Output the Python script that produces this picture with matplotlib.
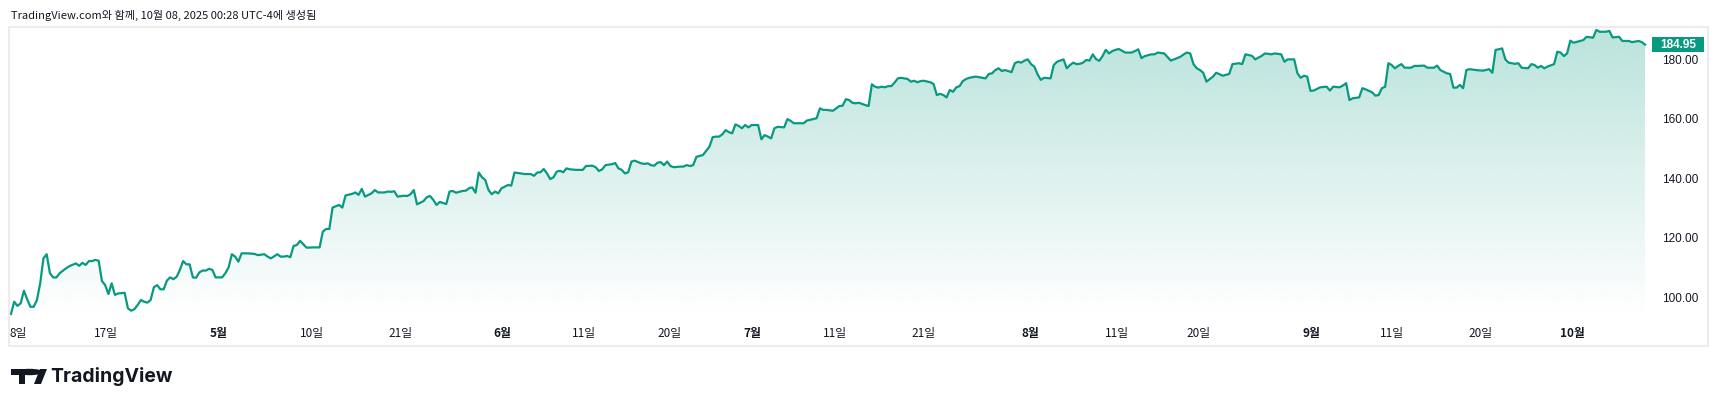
import matplotlib
matplotlib.use("Agg")
import matplotlib.pyplot as plt
import numpy as np
from matplotlib.patches import Rectangle, Polygon, Circle, PathPatch
from matplotlib.path import Path

# ---------------- data (2-hour bar index, price) ----------------
bar_idx = [
    0, 1, 2, 3, 4, 5, 6, 7, 8, 9, 10, 11, 12, 13, 14, 15, 17, 18, 20, 21, 22, 23, 24, 25, 26, 27,
    28, 29, 30, 31, 32, 33, 35, 36, 37, 38, 39, 40, 41, 42, 43, 44, 45, 46, 47, 48, 49, 50, 51, 52,
    53, 54, 55, 56, 57, 58, 59, 60, 61, 62, 63, 65, 66, 67, 68, 69, 70, 71, 73, 75, 76, 78, 79, 80,
    82, 83, 84, 85, 86, 87, 88, 89, 91, 93, 95, 96, 97, 98, 99, 101, 102, 103, 105, 106, 107, 108,
    109, 111, 112, 113, 115, 116, 117, 118, 119, 121, 122, 123, 124, 125, 127, 128, 129, 130, 131,
    132, 134, 135, 136, 137, 139, 140, 141, 142, 143, 144, 145, 146, 147, 148, 149, 150, 151, 153,
    154, 155, 157, 158, 160, 161, 162, 163, 164, 165, 166, 167, 168, 169, 170, 171, 172, 174, 176,
    177, 179, 180, 181, 182, 183, 185, 186, 187, 188, 189, 190, 191, 192, 194, 195, 196, 197, 198,
    199, 200, 201, 202, 203, 204, 206, 207, 208, 209, 210, 211, 212, 213, 215, 216, 217, 218, 219,
    220, 221, 222, 223, 224, 225, 226, 227, 228, 230, 231, 232, 233, 234, 235, 236, 238, 239, 240,
    241, 243, 244, 245, 247, 248, 249, 250, 251, 253, 254, 255, 256, 257, 258, 259, 260, 261, 263,
    264, 265, 266, 267, 268, 269, 270, 271, 272, 273, 274, 276, 277, 278, 279, 280, 281, 283, 284,
    285, 286, 287, 288, 289, 290, 291, 292, 293, 294, 295, 297, 298, 300, 301, 302, 303, 304, 305,
    306, 308, 309, 310, 311, 312, 313, 314, 315, 316, 317, 318, 320, 321, 322, 323, 324, 325, 326,
    327, 328, 329, 330, 331, 332, 333, 334, 335, 336, 337, 338, 339, 340, 341, 343, 345, 346, 347,
    348, 349, 351, 352, 353, 355, 357, 358, 360, 361, 362, 363, 364, 365, 366, 367, 368, 370, 371,
    373, 375, 376, 378, 379, 380, 382, 383, 385, 386, 388, 389, 391, 392, 393, 395, 396, 397, 398,
    399, 400, 401, 403, 405, 406, 407, 409, 410, 411, 412, 413, 415, 416, 417, 419, 420, 421, 422,
    423, 424, 425, 426, 427, 428, 429, 431, 432, 433, 435, 436, 438, 439, 440, 442, 443, 444, 445,
    446, 447, 448, 449, 451, 453, 454, 455, 456, 457, 458, 459, 460, 461, 463, 464, 465, 467, 468,
    469, 470, 471, 472, 473, 475, 476, 477, 478, 479, 480, 481, 483, 484, 485, 487, 488, 489, 491,
    492, 493, 495, 496, 498, 499, 501, 502, 503,
]
price = [
    94.3, 98.4, 97.0, 97.9, 102.1, 99.2, 96.7, 96.7, 99.0, 104.6, 113.0, 114.4, 108.0, 106.6, 106.6,
    108.0, 109.7, 110.4, 111.3, 110.5, 111.5, 110.8, 112.1, 112.1, 112.5, 112.2, 105.4, 104.0, 101.0,
    104.6, 100.7, 101.2, 101.4, 96.2, 95.4, 95.9, 97.3, 99.0, 98.4, 98.1, 99.0, 103.3, 104.0, 102.6,
    102.6, 105.5, 106.6, 106.0, 106.8, 109.1, 112.1, 111.0, 111.0, 106.6, 106.5, 108.3, 108.9, 108.9,
    109.5, 109.1, 106.6, 106.6, 108.0, 110.0, 114.4, 113.6, 111.9, 114.7, 114.7, 114.5, 114.1, 114.4,
    113.6, 113.0, 114.4, 113.6, 113.6, 113.8, 113.4, 117.2, 117.5, 118.9, 116.6, 116.7, 116.7, 122.0,
    122.9, 122.9, 130.1, 131.0, 130.1, 134.2, 134.7, 135.2, 134.4, 136.4, 133.8, 134.9, 136.0, 135.2,
    135.2, 135.5, 135.4, 135.6, 133.8, 134.1, 134.0, 134.6, 136.0, 131.2, 132.3, 133.6, 134.0, 132.7,
    131.0, 132.0, 131.3, 135.5, 135.7, 135.1, 135.7, 135.8, 136.6, 136.9, 135.1, 141.9, 140.3, 139.4,
    136.0, 134.6, 135.5, 134.9, 136.6, 137.7, 137.5, 141.9, 141.6, 141.4, 141.4, 140.8, 141.9, 142.0,
    143.1, 141.6, 139.7, 140.3, 142.2, 142.5, 142.0, 143.3, 143.0, 142.8, 142.8, 144.1, 144.2, 143.7,
    142.4, 143.0, 144.4, 144.7, 145.1, 143.3, 142.8, 141.6, 142.0, 145.6, 145.9, 145.0, 144.8, 145.0,
    144.4, 144.2, 145.2, 145.4, 144.4, 145.6, 144.1, 143.7, 143.9, 143.9, 144.4, 144.1, 144.4, 147.2,
    147.5, 147.8, 150.6, 153.8, 154.0, 154.0, 154.8, 156.2, 155.5, 155.1, 158.1, 157.6, 156.8, 157.9,
    157.1, 157.9, 157.9, 153.1, 154.5, 154.0, 153.4, 156.8, 157.3, 157.1, 159.9, 159.3, 158.5, 158.5,
    158.5, 159.4, 159.9, 160.2, 163.5, 163.0, 163.0, 162.7, 163.5, 164.3, 164.4, 166.6, 166.3, 165.4,
    165.2, 165.4, 164.6, 164.3, 171.6, 170.8, 170.5, 170.8, 170.6, 171.0, 171.0, 172.2, 173.6, 173.8,
    173.4, 172.5, 172.8, 172.3, 172.7, 172.8, 172.3, 171.7, 168.0, 168.4, 168.0, 167.2, 169.7, 169.1,
    170.6, 171.0, 172.7, 173.4, 173.8, 174.2, 174.0, 173.6, 175.1, 175.3, 176.4, 177.0, 176.1, 176.4,
    175.7, 178.7, 179.2, 178.9, 179.6, 180.0, 178.4, 177.6, 175.0, 173.1, 173.8, 173.6, 178.1, 179.2,
    179.6, 180.0, 177.0, 178.1, 178.9, 178.4, 178.5, 178.9, 179.8, 179.6, 181.7, 180.1, 179.5, 181.1,
    183.2, 182.0, 182.8, 183.2, 183.5, 182.3, 182.3, 182.8, 183.4, 180.4, 181.1, 181.7, 181.7, 182.3,
    182.0, 179.6, 180.0, 180.9, 181.7, 182.3, 182.0, 178.4, 177.0, 176.4, 175.5, 172.5, 174.2, 175.5,
    174.5, 175.1, 178.4, 178.7, 178.4, 181.7, 181.2, 180.0, 181.2, 182.0, 181.7, 182.0, 181.7, 179.2,
    180.0, 180.0, 175.3, 173.8, 174.5, 174.2, 169.4, 169.5, 170.6, 170.8, 169.5, 170.8, 170.6, 171.2,
    172.0, 166.3, 166.9, 167.2, 170.3, 169.9, 168.9, 167.8, 168.0, 170.3, 170.8, 178.7, 178.1, 177.0,
    177.8, 178.4, 177.2, 177.2, 177.8, 177.8, 177.9, 177.2, 177.2, 177.9, 176.4, 175.3, 175.1, 170.5,
    170.5, 171.4, 170.3, 176.4, 176.7, 176.4, 176.2, 176.4, 176.7, 175.5, 183.2, 183.4, 183.7, 180.0,
    178.9, 178.5, 178.7, 177.2, 177.0, 178.4, 178.1, 177.2, 177.8, 177.0, 177.6, 178.4, 182.6, 182.3,
    181.1, 182.0, 186.3, 185.6, 186.2, 186.5, 187.6, 187.3, 189.9, 189.3, 189.3, 189.6, 187.4, 187.6,
    186.2, 186.2, 185.8, 186.2, 185.8, 184.95,
]

tick_pos = [2.3, 29.2, 64.0, 92.6, 120.0, 151.1, 176.3, 202.8, 228.3, 253.8, 280.9,
            313.8, 340.6, 365.5, 400.3, 425.2, 452.3, 480.6]
tick_labels = ["8일", "17일", "5월", "10일", "21일", "6월", "11일", "20일", "7월", "11일", "21일",
               "8월", "11일", "20일", "9월", "11일", "20일", "10월"]
month_labels = {"5월", "6월", "7월", "8월", "9월", "10월"}
y_ticks = [100, 120, 140, 160, 180]

TEAL = "#089981"
TXT = "#131722"
KR = ["Noto Sans CJK KR", "DejaVu Sans"]

W, H = 1720, 407
fig = plt.figure(figsize=(W / 100, H / 100), dpi=100)
fig.patch.set_facecolor("white")


def fx(px):
    return px / W


def fy(py):
    return 1 - py / H


# pane (plot area)
L, R, T, B = 9, 1647, 27, 318
ax = fig.add_axes([fx(L), fy(B), fx(R) - fx(L), fy(T) - fy(B)])
ax.set_facecolor("white")
xmin, xmax = -0.6, 503.6
ylo, yhi = 92.93, 190.9
ax.set_xlim(xmin, xmax)
ax.set_ylim(ylo, yhi)

x = np.array(bar_idx, dtype=float)
y = np.array(price, dtype=float)

# gradient area fill clipped to the area under the line
n = 256
grad = np.zeros((n, 1, 4))
rgb = np.array([8, 153, 129]) / 255.0
grad[:, 0, :3] = rgb
grad[:, 0, 3] = np.linspace(0.28, 0.0, n)
im = ax.imshow(grad, extent=[xmin, xmax, ylo, yhi], aspect="auto", origin="upper",
               zorder=1, interpolation="bilinear")
verts = np.vstack([np.column_stack([x, y]), [[x[-1], ylo], [x[0], ylo]]])
clip = PathPatch(Path(verts), transform=ax.transData, facecolor="none", edgecolor="none")
ax.add_patch(clip)
im.set_clip_path(clip)

ax.plot(x, y, color=TEAL, lw=1.6, zorder=3, solid_joinstyle="round")

for s in ax.spines.values():
    s.set_visible(False)

ax.yaxis.tick_right()
ax.set_yticks(y_ticks)
ax.set_yticklabels([f"{v:.2f}" for v in y_ticks], fontsize=8.5, color=TXT,
                   family=["Liberation Sans", "DejaVu Sans"])
ax.tick_params(axis="y", length=0, pad=11)

ax.set_xticks(tick_pos)
ax.set_xticklabels(tick_labels, fontsize=8.5, color=TXT, family=KR)
ax.tick_params(axis="x", length=0, pad=6.5)
for lab in ax.get_xticklabels():
    if lab.get_text() in month_labels:
        lab.set_fontweight("bold")

# panel frame
frame = Rectangle((fx(9), fy(346)), fx(1708) - fx(9), fy(27) - fy(346), transform=fig.transFigure,
                  fill=False, edgecolor="#ececec", lw=1.5)
fig.add_artist(frame)

# last price label
fig.canvas.draw()
py_disp = ax.transData.transform((0, y[-1]))[1]
py_last = H - py_disp
lab_h = 15
fig.add_artist(Rectangle((fx(1652), fy(py_last + lab_h / 2)), fx(1704) - fx(1652), lab_h / H,
                         transform=fig.transFigure, facecolor=TEAL, edgecolor="none"))
fig.text(fx(1678), fy(py_last), f"{y[-1]:.2f}", ha="center", va="center", color="white",
         fontsize=8.5, fontweight="bold", family=["Liberation Sans", "DejaVu Sans"])

# header text
fig.text(fx(11), fy(15), "TradingView.com와 함께, 10월 08, 2025 00:28 UTC-4에 생성됨",
         ha="left", va="center", fontsize=8, color=TXT, family=KR)

# TradingView logo
fig.add_artist(Polygon([(fx(11), fy(369)), (fx(25), fy(369)), (fx(25), fy(384)), (fx(19), fy(384)),
                        (fx(19), fy(375)), (fx(11), fy(375))], closed=True,
                       transform=fig.transFigure, facecolor=TXT, edgecolor="none"))
fig.add_artist(Circle((fx(29.5), fy(372)), 3.2 / H, transform=fig.transFigure,
                      facecolor=TXT, edgecolor="none"))
fig.add_artist(Polygon([(fx(34), fy(384)), (fx(40), fy(369)), (fx(47), fy(369)), (fx(41), fy(384))],
                       closed=True, transform=fig.transFigure, facecolor=TXT, edgecolor="none"))
fig.text(fx(50), fy(376.5), "TradingView", ha="left", va="center", fontsize=14,
         fontweight="bold", color=TXT, family=["Inter", "DejaVu Sans"])

fig.savefig("out.png", dpi=100, facecolor="white")
